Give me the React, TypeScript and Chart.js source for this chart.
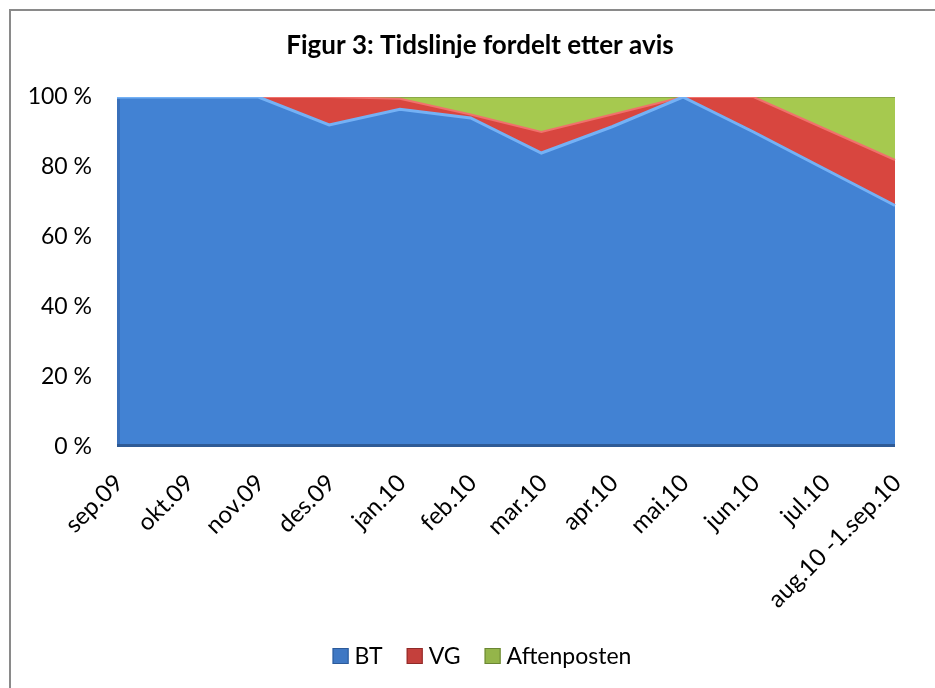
import React, { useEffect, useRef } from "react";
import { Chart, registerables } from "chart.js";

Chart.register(...registerables);

const TITLE = "Figur 3: Tidslinje fordelt etter avis";
const CATEGORIES = [
  "sep.09", "okt.09", "nov.09", "des.09", "jan.10", "feb.10",
  "mar.10", "apr.10", "mai.10", "jun.10", "jul.10", "aug.10 -1.sep.10",
];
const BT = [100, 100, 100, 92, 96.5, 94, 84, 91.5, 100, 90, 79.5, 69];
const VG = [0, 0, 0, 8, 3, 1, 6, 3.5, 0, 10, 11.5, 13];
const AFTENPOSTEN = [0, 0, 0, 0, 0.5, 5, 10, 5, 0, 0, 9, 18];
const Y_TICKS = [0, 20, 40, 60, 80, 100];

const FONT = "Lato, 'DejaVu Sans', sans-serif";

const decorPlugin = {
  id: "decor",
  afterDraw(chart: any) {
    const ctx = chart.ctx as CanvasRenderingContext2D;
    const xs = chart.scales.x;
    const area = chart.chartArea;
    ctx.save();
    // outer frame (left and top edges visible)
    ctx.strokeStyle = "#8a8a8a";
    ctx.lineWidth = 2;
    ctx.beginPath();
    ctx.moveTo(10, 688);
    ctx.lineTo(10, 10);
    ctx.lineTo(935, 10);
    ctx.stroke();

    // plot bevels
    ctx.fillStyle = "#2f5b96";
    ctx.fillRect(area.left, area.bottom - 3, area.right - area.left, 3);
    ctx.fillStyle = "rgba(40,80,140,0.35)";
    ctx.fillRect(area.left, area.top + 2, 3, area.bottom - area.top - 2);

    // title
    ctx.fillStyle = "#000";
    ctx.font = `bold 26px ${FONT}`;
    ctx.textAlign = "center";
    ctx.textBaseline = "alphabetic";
    ctx.fillText(TITLE, 480, 54);

    // x labels
    ctx.font = `24px ${FONT}`;
    ctx.textAlign = "right";
    ctx.textBaseline = "middle";
    CATEGORIES.forEach((c, i) => {
      const px = xs.getPixelForValue(i);
      ctx.save();
      ctx.translate(px + 2, area.bottom + 32);
      ctx.rotate(-Math.PI / 4);
      ctx.fillText(c, 0, 0);
      ctx.restore();
    });

    // legend
    const items = chart.data.datasets.map((d: any) => ({
      label: d.label as string,
      color: d.legendColor as string,
      edge: d.legendEdge as string,
    }));
    ctx.font = `23px ${FONT}`;
    const box = 16;
    const gapBox = 6;
    const gapItem = 24;
    const widths = items.map((it: any) => box + gapBox + ctx.measureText(it.label).width);
    const total = widths.reduce((a: number, b: number) => a + b, 0) + gapItem * (items.length - 1);
    let x = 482 - total / 2;
    const cy = 656;
    ctx.textAlign = "left";
    ctx.textBaseline = "middle";
    items.forEach((it: any, i: number) => {
      ctx.fillStyle = it.color;
      ctx.fillRect(x, cy - box / 2, box, box);
      ctx.strokeStyle = it.edge;
      ctx.lineWidth = 1;
      ctx.strokeRect(x + 0.5, cy - box / 2 + 0.5, box - 1, box - 1);
      ctx.fillStyle = "#000";
      ctx.fillText(it.label, x + box + gapBox, cy + 1);
      x += widths[i] + gapItem;
    });
    ctx.restore();
  },
};

export default function App() {
  const ref = useRef<HTMLCanvasElement>(null);
  useEffect(() => {
    if (!ref.current) return;
    const chart = new Chart(ref.current, {
      type: "line",
      data: {
        labels: CATEGORIES,
        datasets: [
          {
            label: "BT",
            data: BT,
            fill: "origin",
            backgroundColor: "#4282d3",
            borderColor: "#74b1f5",
            borderWidth: 3,
            pointRadius: 0,
            tension: 0,
            legendColor: "#3f78c4",
            legendEdge: "#2c5a99",
          } as any,
          {
            label: "VG",
            data: VG,
            fill: "-1",
            backgroundColor: "#d8463f",
            borderColor: "#f0716c",
            borderWidth: 2,
            pointRadius: 0,
            tension: 0,
            legendColor: "#c4403c",
            legendEdge: "#8f2a28",
          } as any,
          {
            label: "Aftenposten",
            data: AFTENPOSTEN,
            fill: "-1",
            backgroundColor: "#a6c94f",
            borderColor: "#7f9e45",
            borderWidth: 1.5,
            pointRadius: 0,
            tension: 0,
            legendColor: "#94b54a",
            legendEdge: "#6a8634",
          } as any,
        ],
      },
      options: {
        animation: false,
        responsive: false,
        devicePixelRatio: 1,
        layout: { padding: { top: 97, right: 40, left: 0, bottom: 0 } },
        plugins: {
          legend: { display: false },
          title: { display: false },
          tooltip: { enabled: false },
        },
        scales: {
          x: {
            type: "category",
            offset: false,
            grid: { display: false },
            border: { display: false },
            ticks: { display: false },
            afterFit: (s: any) => {
              s.height = 241;
            },
          },
          y: {
            stacked: true,
            min: 0,
            max: 100,
            grid: { display: false, drawTicks: false },
            border: { display: false },
            afterBuildTicks: (s: any) => {
              s.ticks = Y_TICKS.map((v) => ({ value: v }));
            },
            ticks: {
              padding: 25,
              color: "#000",
              font: { family: FONT, size: 23 },
              callback: (v: any) => `${v} %`,
            },
            afterFit: (s: any) => {
              s.width = 117;
            },
          },
        },
      },
      plugins: [decorPlugin],
    });
    return () => chart.destroy();
  }, []);
  return (
    <div style={{ position: "absolute", left: 0, top: 0, width: 935, height: 688, background: "#fff" }}>
      <canvas ref={ref} width={935} height={688} />
    </div>
  );
}
